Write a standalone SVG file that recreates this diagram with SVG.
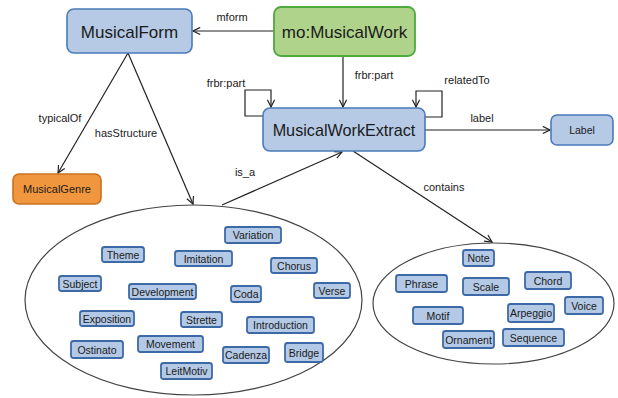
<svg xmlns="http://www.w3.org/2000/svg" width="618" height="398" viewBox="0 0 618 398">
<defs>
<marker id="arr" viewBox="0 0 10 10" refX="9" refY="5" markerWidth="9" markerHeight="9" markerUnits="userSpaceOnUse" orient="auto">
<path d="M1,1 L9,5 L1,9" fill="none" stroke="#222" stroke-width="1.3"/>
</marker>
<style>
text{font-family:"Liberation Sans",Arial,sans-serif;fill:#1a1a1a;text-anchor:middle;dominant-baseline:central}
.big{fill:#b6cae6;stroke:#4a7ab8;stroke-width:1.6}
.small{fill:#b3c9e6;stroke:#3d6aa6;stroke-width:1.8}
.green{fill:#b0d38c;stroke:#4eaa3c;stroke-width:1.8}
.orange{fill:#f0963e;stroke:#c9711f;stroke-width:1.6}
.edge{fill:none;stroke:#222;stroke-width:1.2}
.el{fill:#fff;stroke:#444;stroke-width:1.2}
.t17{font-size:17px}
.t11{font-size:11px}
.t10{font-size:10.5px}
</style>
</defs>
<rect width="618" height="398" fill="#fff"/>
<g id="containers">
<ellipse class="el" cx="193.5" cy="300" rx="168.5" ry="95"/>
<ellipse class="el" cx="493.5" cy="303.5" rx="120.5" ry="60.5"/>
</g>
<g id="connectors">
<path class="edge" d="M274,31 L193,31" marker-end="url(#arr)"/>
<path class="edge" d="M343,56 L343,107" marker-end="url(#arr)"/>
<path class="edge" d="M263,116 L245,116 L245,90 L271,90 L271,107" marker-end="url(#arr)"/>
<path class="edge" d="M425,117 L442,117 L442,91 L416,91 L416,107" marker-end="url(#arr)"/>
<path class="edge" d="M425,130 L550,130" marker-end="url(#arr)"/>
<path class="edge" d="M128,53 L58,173" marker-end="url(#arr)"/>
<path class="edge" d="M128,53 L193,204" marker-end="url(#arr)"/>
<path class="edge" d="M222,205 L342,152" marker-end="url(#arr)"/>
<path class="edge" d="M353,151 L492,242" marker-end="url(#arr)"/>
<text class="t11" x="232" y="17">mform</text>
<text class="t11" x="374" y="75">frbr:part</text>
<text class="t11" x="226" y="83">frbr:part</text>
<text class="t11" x="467" y="80">relatedTo</text>
<text class="t11" x="482" y="118">label</text>
<text class="t11" x="60" y="118">typicalOf</text>
<text class="t11" x="126" y="133">hasStructure</text>
<text class="t11" x="245" y="172">is_a</text>
<text class="t11" x="444" y="187">contains</text>
</g>
<g id="MusicalForm"><rect class="big" x="67" y="9" width="125" height="44" rx="7"/><text class="t17" x="129.5" y="32">MusicalForm</text></g>
<g id="MusicalWork"><rect class="green" x="274" y="7" width="141" height="49" rx="7"/><text class="t17" x="344.5" y="32">mo:MusicalWork</text></g>
<g id="MusicalWorkExtract"><rect class="big" x="263" y="108" width="162" height="43" rx="7"/><text class="t17" x="344" y="130" style="font-size:16.2px">MusicalWorkExtract</text></g>
<g id="Label"><rect class="big" x="551" y="115" width="62" height="30" rx="6"/><text x="582" y="130" style="font-size:10.5px">Label</text></g>
<g id="MusicalGenre"><rect class="orange" x="13" y="174" width="88" height="30" rx="6"/><text class="t11" x="57" y="189">MusicalGenre</text></g>
<g id="Variation"><rect class="small" x="225" y="227" width="56" height="16" rx="2.5"/><text class="t10" x="253" y="235">Variation</text></g>
<g id="Theme"><rect class="small" x="102" y="247" width="42" height="15" rx="2.5"/><text class="t10" x="123" y="254.5">Theme</text></g>
<g id="Imitation"><rect class="small" x="175" y="251" width="57" height="15" rx="2.5"/><text class="t10" x="203.5" y="258.5">Imitation</text></g>
<g id="Chorus"><rect class="small" x="271" y="258" width="46" height="15" rx="2.5"/><text class="t10" x="294" y="265.5">Chorus</text></g>
<g id="Subject"><rect class="small" x="59" y="276" width="42" height="15" rx="2.5"/><text class="t10" x="80" y="283.5">Subject</text></g>
<g id="Development"><rect class="small" x="129" y="284" width="67" height="15" rx="2.5"/><text class="t10" x="162.5" y="291.5">Development</text></g>
<g id="Coda"><rect class="small" x="231" y="286" width="30" height="16" rx="2.5"/><text class="t10" x="246" y="294">Coda</text></g>
<g id="Verse"><rect class="small" x="314" y="283" width="36" height="15" rx="2.5"/><text class="t10" x="332" y="290.5">Verse</text></g>
<g id="Exposition"><rect class="small" x="80" y="311" width="54" height="15" rx="2.5"/><text class="t10" x="107" y="318.5">Exposition</text></g>
<g id="Strette"><rect class="small" x="181" y="312" width="41" height="15" rx="2.5"/><text class="t10" x="201.5" y="319.5">Strette</text></g>
<g id="Introduction"><rect class="small" x="247" y="317" width="67" height="16" rx="2.5"/><text class="t10" x="280.5" y="325">Introduction</text></g>
<g id="Ostinato"><rect class="small" x="71" y="341" width="52" height="17" rx="2.5"/><text class="t10" x="97" y="349.5">Ostinato</text></g>
<g id="Movement"><rect class="small" x="138" y="336" width="65" height="16" rx="2.5"/><text class="t10" x="170.5" y="344">Movement</text></g>
<g id="Cadenza"><rect class="small" x="223" y="347" width="46" height="16" rx="2.5"/><text class="t10" x="246" y="355">Cadenza</text></g>
<g id="Bridge"><rect class="small" x="285" y="343" width="38" height="19" rx="2.5"/><text class="t10" x="304" y="352.5">Bridge</text></g>
<g id="LeitMotiv"><rect class="small" x="161" y="363" width="51" height="16" rx="2.5"/><text class="t10" x="186.5" y="371">LeitMotiv</text></g>
<g id="Note"><rect class="small" x="463" y="250" width="31" height="16" rx="2.5"/><text class="t10" x="478.5" y="258">Note</text></g>
<g id="Phrase"><rect class="small" x="396" y="275" width="51" height="17" rx="2.5"/><text class="t10" x="421.5" y="283.5">Phrase</text></g>
<g id="Scale"><rect class="small" x="463" y="278" width="46" height="17" rx="2.5"/><text class="t10" x="486" y="286.5">Scale</text></g>
<g id="Chord"><rect class="small" x="525" y="272" width="46" height="17" rx="2.5"/><text class="t10" x="548" y="280.5">Chord</text></g>
<g id="Voice"><rect class="small" x="565" y="297" width="38" height="17" rx="2.5"/><text class="t10" x="584" y="305.5">Voice</text></g>
<g id="Motif"><rect class="small" x="413" y="307" width="50" height="17" rx="2.5"/><text class="t10" x="438" y="315.5">Motif</text></g>
<g id="Arpeggio"><rect class="small" x="508" y="304" width="46" height="18" rx="2.5"/><text class="t10" x="531" y="313">Arpeggio</text></g>
<g id="Ornament"><rect class="small" x="443" y="331" width="51" height="17" rx="2.5"/><text class="t10" x="468.5" y="339.5">Ornament</text></g>
<g id="Sequence"><rect class="small" x="503" y="329" width="61" height="17" rx="2.5"/><text class="t10" x="533.5" y="337.5">Sequence</text></g>
</svg>
